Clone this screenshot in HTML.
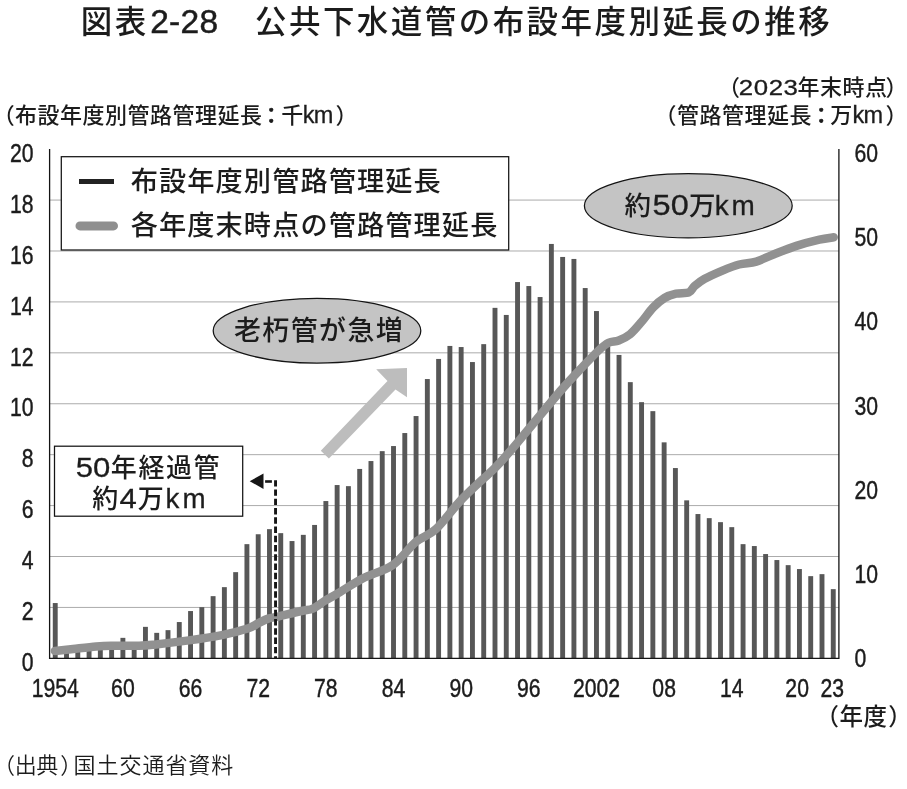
<!DOCTYPE html>
<html lang="ja"><head><meta charset="utf-8"><title>図表2-28 公共下水道管の布設年度別延長の推移</title>
<style>html,body{margin:0;padding:0;background:#fff}svg{display:block}text{font-family:"Liberation Sans", "Noto Sans CJK JP", sans-serif;fill:#1c1c1c}</style></head><body>
<svg width="907" height="789" viewBox="0 0 907 789">
<rect width="907" height="789" fill="#fff"/>
<text x="80.80" y="33.30" font-size="31.5" letter-spacing="2.4" font-weight="500">図表</text>
<text x="150.20" y="33.20" font-size="33.5" letter-spacing="0.3" stroke="#1c1c1c" stroke-width="0.5">2-28</text>
<text x="255.00" y="33.30" font-size="31.5" letter-spacing="2.45" font-weight="500">公共下水道管の布設年度別延長の推移</text>
<text x="-7.30" y="123.20" font-size="22" font-weight="500">（</text>
<text x="15.00" y="123.20" font-size="22" letter-spacing="0.5" font-weight="500">布設年度別管路管理延長</text>
<text x="260.20" y="123.20" font-size="22" font-weight="500" stroke="#1c1c1c" stroke-width="0.6">：</text>
<text x="281.20" y="123.20" font-size="22" font-weight="500">千</text>
<text x="302.80" y="123.20" font-size="23.5" letter-spacing="-0.8" stroke="#1c1c1c" stroke-width="0.3">km</text>
<text x="335.50" y="123.20" font-size="22" font-weight="500">）</text>
<text x="718.00" y="94.80" font-size="22" font-weight="500">（</text>
<text transform="translate(738.80 94.70) scale(1.200 1)" font-size="21.5" letter-spacing="0.5" stroke="#1c1c1c" stroke-width="0.3">2023</text>
<text x="797.50" y="94.80" font-size="22" letter-spacing="0.5" font-weight="500">年末時点</text>
<text x="885.50" y="94.80" font-size="22" font-weight="500">）</text>
<text x="654.50" y="123.20" font-size="22" font-weight="500">（</text>
<text x="677.00" y="123.20" font-size="22" letter-spacing="0.5" font-weight="500">管路管理延長</text>
<text x="810.30" y="123.20" font-size="22" font-weight="500" stroke="#1c1c1c" stroke-width="0.6">：</text>
<text x="830.20" y="123.20" font-size="22" font-weight="500">万</text>
<text x="852.60" y="123.20" font-size="23.5" letter-spacing="-0.8" stroke="#1c1c1c" stroke-width="0.3">km</text>
<text x="885.50" y="123.20" font-size="22" font-weight="500">）</text>
<line x1="49.6" x2="838.9" y1="607.43" y2="607.43" stroke="#ababab" stroke-width="1"/>
<line x1="49.6" x2="838.9" y1="556.51" y2="556.51" stroke="#ababab" stroke-width="1"/>
<line x1="49.6" x2="838.9" y1="505.59" y2="505.59" stroke="#ababab" stroke-width="1"/>
<line x1="49.6" x2="838.9" y1="454.67" y2="454.67" stroke="#ababab" stroke-width="1"/>
<line x1="49.6" x2="838.9" y1="403.75" y2="403.75" stroke="#ababab" stroke-width="1"/>
<line x1="49.6" x2="838.9" y1="352.83" y2="352.83" stroke="#ababab" stroke-width="1"/>
<line x1="49.6" x2="838.9" y1="301.91" y2="301.91" stroke="#ababab" stroke-width="1"/>
<line x1="49.6" x2="838.9" y1="250.99" y2="250.99" stroke="#ababab" stroke-width="1"/>
<line x1="49.6" x2="838.9" y1="200.07" y2="200.07" stroke="#ababab" stroke-width="1"/>
<g fill="#575757"><rect x="52.79" y="603.05" width="4.9" height="55.30"/><rect x="64.06" y="650.35" width="4.9" height="8.00"/><rect x="75.34" y="649.35" width="4.9" height="9.00"/><rect x="86.61" y="648.35" width="4.9" height="10.00"/><rect x="97.89" y="647.35" width="4.9" height="11.00"/><rect x="109.17" y="646.35" width="4.9" height="12.00"/><rect x="120.44" y="637.85" width="4.9" height="20.50"/><rect x="131.72" y="644.35" width="4.9" height="14.00"/><rect x="142.99" y="626.85" width="4.9" height="31.50"/><rect x="154.27" y="632.85" width="4.9" height="25.50"/><rect x="165.55" y="630.15" width="4.9" height="28.20"/><rect x="176.82" y="622.05" width="4.9" height="36.30"/><rect x="188.10" y="611.05" width="4.9" height="47.30"/><rect x="199.37" y="607.15" width="4.9" height="51.20"/><rect x="210.65" y="596.15" width="4.9" height="62.20"/><rect x="221.92" y="587.15" width="4.9" height="71.20"/><rect x="233.20" y="572.15" width="4.9" height="86.20"/><rect x="244.47" y="544.15" width="4.9" height="114.20"/><rect x="255.75" y="534.25" width="4.9" height="124.10"/><rect x="267.03" y="529.15" width="4.9" height="129.20"/><rect x="278.30" y="533.15" width="4.9" height="125.20"/><rect x="289.58" y="541.05" width="4.9" height="117.30"/><rect x="300.85" y="534.85" width="4.9" height="123.50"/><rect x="312.13" y="524.95" width="4.9" height="133.40"/><rect x="323.41" y="501.05" width="4.9" height="157.30"/><rect x="334.68" y="485.05" width="4.9" height="173.30"/><rect x="345.96" y="486.15" width="4.9" height="172.20"/><rect x="357.23" y="468.95" width="4.9" height="189.40"/><rect x="368.51" y="461.05" width="4.9" height="197.30"/><rect x="379.78" y="451.15" width="4.9" height="207.20"/><rect x="391.06" y="446.05" width="4.9" height="212.30"/><rect x="402.34" y="433.05" width="4.9" height="225.30"/><rect x="413.61" y="416.05" width="4.9" height="242.30"/><rect x="424.89" y="379.05" width="4.9" height="279.30"/><rect x="436.16" y="358.95" width="4.9" height="299.40"/><rect x="447.44" y="345.95" width="4.9" height="312.40"/><rect x="458.71" y="347.05" width="4.9" height="311.30"/><rect x="469.99" y="362.05" width="4.9" height="296.30"/><rect x="481.26" y="344.15" width="4.9" height="314.20"/><rect x="492.54" y="307.85" width="4.9" height="350.50"/><rect x="503.82" y="314.95" width="4.9" height="343.40"/><rect x="515.09" y="282.05" width="4.9" height="376.30"/><rect x="526.37" y="286.05" width="4.9" height="372.30"/><rect x="537.64" y="297.05" width="4.9" height="361.30"/><rect x="548.92" y="243.95" width="4.9" height="414.40"/><rect x="560.19" y="256.95" width="4.9" height="401.40"/><rect x="571.47" y="258.95" width="4.9" height="399.40"/><rect x="582.75" y="288.05" width="4.9" height="370.30"/><rect x="594.02" y="311.05" width="4.9" height="347.30"/><rect x="605.30" y="346.35" width="4.9" height="312.00"/><rect x="616.57" y="354.95" width="4.9" height="303.40"/><rect x="627.85" y="382.15" width="4.9" height="276.20"/><rect x="639.12" y="402.15" width="4.9" height="256.20"/><rect x="650.40" y="411.15" width="4.9" height="247.20"/><rect x="661.68" y="442.35" width="4.9" height="216.00"/><rect x="672.95" y="468.05" width="4.9" height="190.30"/><rect x="684.23" y="500.35" width="4.9" height="158.00"/><rect x="695.50" y="514.05" width="4.9" height="144.30"/><rect x="706.78" y="518.15" width="4.9" height="140.20"/><rect x="718.05" y="522.15" width="4.9" height="136.20"/><rect x="729.33" y="527.15" width="4.9" height="131.20"/><rect x="740.61" y="544.15" width="4.9" height="114.20"/><rect x="751.88" y="546.05" width="4.9" height="112.30"/><rect x="763.16" y="554.05" width="4.9" height="104.30"/><rect x="774.43" y="560.05" width="4.9" height="98.30"/><rect x="785.71" y="565.15" width="4.9" height="93.20"/><rect x="796.98" y="569.05" width="4.9" height="89.30"/><rect x="808.26" y="576.15" width="4.9" height="82.20"/><rect x="819.54" y="574.15" width="4.9" height="84.20"/><rect x="830.81" y="589.15" width="4.9" height="69.20"/></g>
<path d="M49.6 149 V658.35 H838.9 V149" fill="none" stroke="#141414" stroke-width="1.3"/>
<rect x="61.3" y="156.7" width="447.4" height="93.3" fill="#fff" stroke="#141414" stroke-width="1.25"/>
<line x1="79" x2="114" y1="181.4" y2="181.4" stroke="#222" stroke-width="5"/>
<line x1="80" x2="113.5" y1="225.9" y2="225.9" stroke="#8f8f8f" stroke-width="9" stroke-linecap="round"/>
<text x="130.70" y="191.30" font-size="27.2" letter-spacing="1.1" font-weight="500">布設年度別管路管理延長</text>
<text x="130.70" y="235.10" font-size="27.2" letter-spacing="1.1" font-weight="500">各年度末時点の管路管理延長</text>
<ellipse cx="688.3" cy="205.8" rx="103.9" ry="32.1" fill="#c4c4c4" stroke="#141414" stroke-width="1.25"/>
<text x="624.50" y="215.10" font-size="26.5" font-weight="500">約</text>
<text transform="translate(652.60 215.20) scale(1.100 1)" font-size="29.5" stroke="#1c1c1c" stroke-width="0.3">50</text>
<text x="689.10" y="215.10" font-size="26.5" font-weight="500">万</text>
<text transform="translate(714.70 215.20) scale(0.980 1)" font-size="28.5" letter-spacing="3" stroke="#1c1c1c" stroke-width="0.3">km</text>
<path d="M54.9 651.0 C57.9 650.7 66.2 649.8 73.1 649.0 C80.0 648.2 89.9 646.9 96.2 646.4 C102.5 645.9 103.9 645.8 111.1 645.7 C118.3 645.6 131.8 645.9 139.2 645.7 C146.6 645.5 147.5 645.3 155.8 644.4 C164.1 643.5 177.9 641.9 188.9 640.4 C199.9 638.9 212.0 637.1 221.9 635.1 C231.8 633.1 242.3 630.2 248.4 628.2 C254.5 626.2 255.0 624.8 258.3 623.2 C261.6 621.6 264.9 619.7 268.2 618.6 C271.5 617.5 272.7 617.9 278.2 616.6 C283.7 615.3 295.5 612.3 301.3 611.0 C307.1 609.7 309.0 610.3 312.9 608.6 C316.8 606.9 320.0 603.8 324.5 601.0 C329.0 598.2 333.6 595.9 340.0 592.1 C346.4 588.3 354.3 582.7 363.1 578.2 C371.9 573.7 384.1 571.0 392.9 564.9 C401.7 558.8 408.8 547.8 416.0 541.8 C423.2 535.8 428.2 536.4 435.9 529.2 C443.6 522.0 452.4 509.1 462.3 498.8 C472.2 488.5 487.1 475.7 495.4 467.4 C503.7 459.1 506.4 455.5 511.9 449.2 C517.4 442.9 520.2 439.2 528.5 429.3 C536.8 419.4 552.8 399.8 561.6 389.6 C570.4 379.4 575.2 374.6 581.4 368.1 C587.6 361.6 594.1 354.7 598.6 350.5 C603.1 346.3 605.2 344.5 608.6 342.8 C612.0 341.1 615.1 341.9 618.7 340.5 C622.3 339.1 626.3 337.3 630.1 334.2 C633.9 331.1 637.8 326.2 641.6 321.8 C645.4 317.4 649.3 311.5 653.1 307.5 C656.9 303.5 660.7 300.3 664.5 298.0 C668.3 295.7 671.9 294.6 676.0 293.7 C680.1 292.8 685.8 293.6 688.9 292.3 C692.0 291.0 692.0 288.2 694.6 286.0 C697.2 283.8 700.2 281.3 704.7 278.8 C709.2 276.3 716.2 273.2 721.9 270.8 C727.6 268.4 733.4 266.0 739.1 264.5 C744.8 263.0 750.6 263.3 756.3 261.6 C762.0 259.9 766.8 257.1 773.5 254.5 C780.2 251.9 788.8 248.4 796.4 245.9 C804.0 243.4 813.2 241.0 819.4 239.6 C825.6 238.2 831.3 237.7 833.7 237.3" fill="none" stroke="#919191" stroke-width="8.5" stroke-linejoin="round" stroke-linecap="round"/>
<ellipse cx="317" cy="330.7" rx="103.8" ry="32.4" fill="#c4c4c4" stroke="#141414" stroke-width="1.25"/>
<text x="233.90" y="339.50" font-size="26.9" letter-spacing="1.5" font-weight="500">老朽管が急増</text>
<polygon points="320.8,450.8 328.9,458.6 395.5,389.5 407,397.3 407,368.1 376.2,369.2 387.5,381" fill="#bdbdbd"/>
<rect x="54.5" y="446.2" width="188.2" height="70" fill="#fff" stroke="#141414" stroke-width="1.25"/>
<text transform="translate(75.80 476.80) scale(1.110 1)" font-size="28" stroke="#1c1c1c" stroke-width="0.3">50</text>
<text x="110.80" y="477.10" font-size="26" letter-spacing="1.6" font-weight="500">年経過管</text>
<text x="92.30" y="508.10" font-size="26" font-weight="500">約</text>
<text transform="translate(119.40 508.00) scale(1.150 1)" font-size="27" stroke="#1c1c1c" stroke-width="0.3">4</text>
<text x="137.80" y="508.10" font-size="26" font-weight="500">万</text>
<text transform="translate(165.50 508.00) scale(0.990 1)" font-size="28" letter-spacing="3.1" stroke="#1c1c1c" stroke-width="0.3">km</text>
<path d="M275.55 480.2 V658" fill="none" stroke="#161616" stroke-width="2.9" stroke-dasharray="6.4 2.86"/>
<line x1="265.1" x2="271.9" y1="481.5" y2="481.5" stroke="#161616" stroke-width="2.6"/>
<polygon points="249.7,481.2 263.5,473.5 263.5,488.9" fill="#161616"/>
<text transform="translate(33.60 671.05) scale(0.830 1)" font-size="25.5" text-anchor="end" stroke="#1c1c1c" stroke-width="0.45">0</text>
<text transform="translate(33.60 620.13) scale(0.830 1)" font-size="25.5" text-anchor="end" stroke="#1c1c1c" stroke-width="0.45">2</text>
<text transform="translate(33.60 569.21) scale(0.830 1)" font-size="25.5" text-anchor="end" stroke="#1c1c1c" stroke-width="0.45">4</text>
<text transform="translate(33.60 518.29) scale(0.830 1)" font-size="25.5" text-anchor="end" stroke="#1c1c1c" stroke-width="0.45">6</text>
<text transform="translate(33.60 467.37) scale(0.830 1)" font-size="25.5" text-anchor="end" stroke="#1c1c1c" stroke-width="0.45">8</text>
<text transform="translate(33.60 416.45) scale(0.830 1)" font-size="25.5" text-anchor="end" stroke="#1c1c1c" stroke-width="0.45">10</text>
<text transform="translate(33.60 365.53) scale(0.830 1)" font-size="25.5" text-anchor="end" stroke="#1c1c1c" stroke-width="0.45">12</text>
<text transform="translate(33.60 314.61) scale(0.830 1)" font-size="25.5" text-anchor="end" stroke="#1c1c1c" stroke-width="0.45">14</text>
<text transform="translate(33.60 263.69) scale(0.830 1)" font-size="25.5" text-anchor="end" stroke="#1c1c1c" stroke-width="0.45">16</text>
<text transform="translate(33.60 212.77) scale(0.830 1)" font-size="25.5" text-anchor="end" stroke="#1c1c1c" stroke-width="0.45">18</text>
<text transform="translate(33.60 161.85) scale(0.830 1)" font-size="25.5" text-anchor="end" stroke="#1c1c1c" stroke-width="0.45">20</text>
<text transform="translate(854.60 666.80) scale(0.830 1)" font-size="25.5" stroke="#1c1c1c" stroke-width="0.45">0</text>
<text transform="translate(854.60 582.70) scale(0.830 1)" font-size="25.5" stroke="#1c1c1c" stroke-width="0.45">10</text>
<text transform="translate(854.60 498.60) scale(0.830 1)" font-size="25.5" stroke="#1c1c1c" stroke-width="0.45">20</text>
<text transform="translate(854.60 414.50) scale(0.830 1)" font-size="25.5" stroke="#1c1c1c" stroke-width="0.45">30</text>
<text transform="translate(854.60 330.40) scale(0.830 1)" font-size="25.5" stroke="#1c1c1c" stroke-width="0.45">40</text>
<text transform="translate(854.60 246.30) scale(0.830 1)" font-size="25.5" stroke="#1c1c1c" stroke-width="0.45">50</text>
<text transform="translate(854.60 162.20) scale(0.830 1)" font-size="25.5" stroke="#1c1c1c" stroke-width="0.45">60</text>
<text transform="translate(55.24 696.90) scale(0.830 1)" font-size="25.5" text-anchor="middle" stroke="#1c1c1c" stroke-width="0.45">1954</text>
<text transform="translate(122.89 696.90) scale(0.830 1)" font-size="25.5" text-anchor="middle" stroke="#1c1c1c" stroke-width="0.45">60</text>
<text transform="translate(190.55 696.90) scale(0.830 1)" font-size="25.5" text-anchor="middle" stroke="#1c1c1c" stroke-width="0.45">66</text>
<text transform="translate(258.20 696.90) scale(0.830 1)" font-size="25.5" text-anchor="middle" stroke="#1c1c1c" stroke-width="0.45">72</text>
<text transform="translate(325.86 696.90) scale(0.830 1)" font-size="25.5" text-anchor="middle" stroke="#1c1c1c" stroke-width="0.45">78</text>
<text transform="translate(393.51 696.90) scale(0.830 1)" font-size="25.5" text-anchor="middle" stroke="#1c1c1c" stroke-width="0.45">84</text>
<text transform="translate(461.16 696.90) scale(0.830 1)" font-size="25.5" text-anchor="middle" stroke="#1c1c1c" stroke-width="0.45">90</text>
<text transform="translate(528.82 696.90) scale(0.830 1)" font-size="25.5" text-anchor="middle" stroke="#1c1c1c" stroke-width="0.45">96</text>
<text transform="translate(596.47 696.90) scale(0.830 1)" font-size="25.5" text-anchor="middle" stroke="#1c1c1c" stroke-width="0.45">2002</text>
<text transform="translate(664.13 696.90) scale(0.830 1)" font-size="25.5" text-anchor="middle" stroke="#1c1c1c" stroke-width="0.45">08</text>
<text transform="translate(731.78 696.90) scale(0.830 1)" font-size="25.5" text-anchor="middle" stroke="#1c1c1c" stroke-width="0.45">14</text>
<text transform="translate(797.13 696.90) scale(0.830 1)" font-size="25.5" text-anchor="middle" stroke="#1c1c1c" stroke-width="0.45">20</text>
<text transform="translate(832.26 696.90) scale(0.830 1)" font-size="25.5" text-anchor="middle" stroke="#1c1c1c" stroke-width="0.45">23</text>
<text x="815.50" y="724.60" font-size="23.5" font-weight="500">（</text>
<text x="839.60" y="724.60" font-size="23.5" letter-spacing="0.3" font-weight="500">年度</text>
<text x="888.30" y="724.60" font-size="23.5" font-weight="500">）</text>
<text x="-7.00" y="773.20" font-size="22" font-weight="350">（</text>
<text x="14.80" y="773.20" font-size="22" letter-spacing="-0.5" font-weight="350">出典</text>
<text x="60.30" y="773.20" font-size="22" font-weight="350">）</text>
<text x="73.50" y="773.20" font-size="22" letter-spacing="0.97" font-weight="350">国土交通省資料</text>
</svg></body></html>
